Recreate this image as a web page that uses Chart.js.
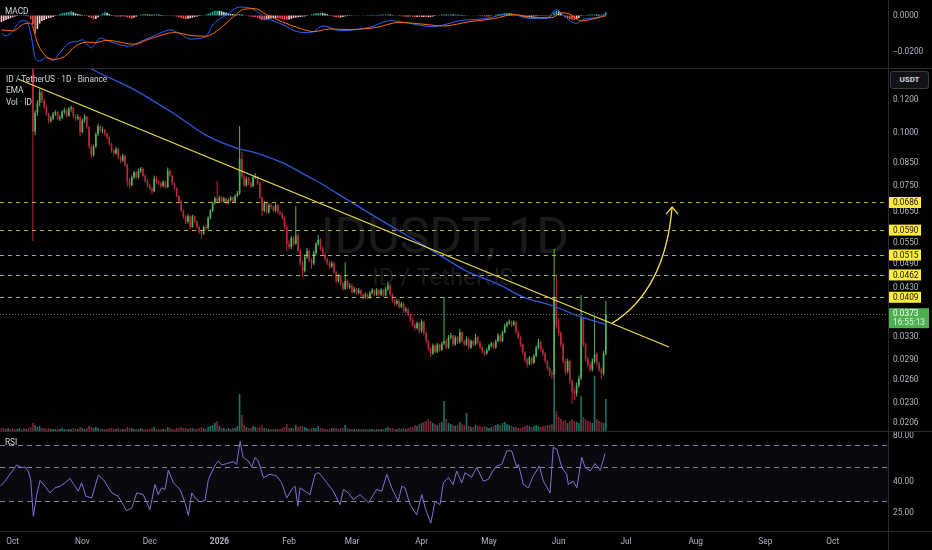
<!DOCTYPE html>
<html>
<head>
<meta charset="utf-8">
<title>IDUSDT 1D</title>
<script src="https://cdn.jsdelivr.net/npm/chart.js@4.4.1/dist/chart.umd.min.js"></script>
<style>
  html, body { margin: 0; padding: 0; background: #000; }
  #wrap { position: relative; width: 932px; height: 550px; background: #000; overflow: hidden; }
  #wrap canvas { position: absolute; left: 0; }
  .sep { position: absolute; background: #2a2b30; }
  #usdt { position: absolute; left: 890px; top: 71px; width: 37px; height: 16px; border: 1px solid #3b3d45;
          border-radius: 3px; background: #111216; color: #d1d4dc; font: bold 8px Roboto, sans-serif;
          line-height: 16px; text-align: center; }
</style>
</head>
<body>
<div id="wrap">
  <canvas id="macd" width="932" height="68" style="top:0"></canvas>
  <canvas id="price" width="932" height="362" style="top:69px"></canvas>
  <canvas id="rsi" width="932" height="118" style="top:432px"></canvas>
  <div class="sep" style="left:0;top:68px;width:932px;height:1px"></div>
  <div class="sep" style="left:0;top:431px;width:932px;height:1px"></div>
  <div class="sep" style="left:0;top:531px;width:932px;height:1px"></div>
  <div class="sep" style="left:888px;top:0;width:1px;height:550px"></div>
  <div id="usdt">USDT</div>
</div>
<script>
// x axis = days since 2025-10-01, first candle is 2025-09-26
const FIRST_DAY = -5;
const X_MIN = -5.65;
const X_MAX = 389.6;

const monthDays = [0, 31, 61, 92, 123, 151, 182, 212, 243, 273, 304, 335, 365];
const monthLabels = ['Oct', 'Nov', 'Dec', '2026', 'Feb', 'Mar', 'Apr', 'May', 'Jun', 'Jul', 'Aug', 'Sep', 'Oct'];

const priceTicks = [0.1200, 0.1000, 0.0850, 0.0750, 0.0650, 0.0550, 0.0490, 0.0430, 0.0330, 0.0290, 0.0260, 0.0230, 0.0206];
const macdTicks = [0, -0.02];
const rsiTicks = [80, 40, 25];
const rsiBands = [70, 50, 30];

const levels = [0.0686, 0.0590, 0.0515, 0.0462, 0.0409];
const lastPrice = 0.0373;
const countdown = '16:55:13';

const firstOpen = 0.185;
const closes = [
  0.182, 0.178, 0.175, 0.179, 0.176, 0.171, 0.168, 0.172, 0.174, 0.170,            // -5
  0.169, 0.173, 0.171, 0.170, 0.1010, 0.1120, 0.1180, 0.1255, 0.1200, 0.1157,      // 5
  0.1113, 0.1070, 0.1085, 0.1113, 0.1123, 0.1083, 0.1090, 0.1125, 0.1136, 0.1100,  // 15
  0.1146, 0.1150, 0.1097, 0.1085, 0.1095, 0.1008, 0.1074, 0.1097, 0.1036, 0.0931,  // 25
  0.0888, 0.0930, 0.0997, 0.1040, 0.1017, 0.1020, 0.0997, 0.0979, 0.0946, 0.0910,  // 35
  0.0897, 0.0920, 0.0877, 0.0862, 0.0885, 0.0843, 0.0772, 0.0753, 0.0787, 0.0808,  // 45
  0.0787, 0.0816, 0.0824, 0.0794, 0.0772, 0.0753, 0.0740, 0.0729, 0.0781, 0.0768,  // 55
  0.0762, 0.0750, 0.0768, 0.0746, 0.0816, 0.0794, 0.0762, 0.0741, 0.0711, 0.0690,  // 65
  0.0656, 0.0636, 0.0618, 0.0636, 0.0600, 0.0636, 0.0618, 0.0600, 0.0584, 0.0579,  // 75
  0.0600, 0.0596, 0.0630, 0.0656, 0.0684, 0.0701, 0.0690, 0.0705, 0.0690, 0.0701,  // 85
  0.0684, 0.0695, 0.0705, 0.0690, 0.0711, 0.0722, 0.0870, 0.0790, 0.0753, 0.0781,  // 95
  0.0762, 0.0750, 0.0787, 0.0790, 0.0762, 0.0705, 0.0656, 0.0684, 0.0650, 0.0676,  // 105
  0.0670, 0.0656, 0.0676, 0.0650, 0.0645, 0.0630, 0.0600, 0.0548, 0.0538, 0.0565,  // 115
  0.0548, 0.0573, 0.0527, 0.0492, 0.0472, 0.0510, 0.0527, 0.0500, 0.0492, 0.0521,  // 125
  0.0548, 0.0560, 0.0533, 0.0517, 0.0503, 0.0493, 0.0483, 0.0492, 0.0469, 0.0447,  // 135
  0.0460, 0.0441, 0.0428, 0.0447, 0.0432, 0.0436, 0.0421, 0.0428, 0.0419, 0.0425,  // 145
  0.0415, 0.0409, 0.0415, 0.0409, 0.0419, 0.0425, 0.0415, 0.0425, 0.0415, 0.0425,  // 155
  0.0413, 0.0428, 0.0436, 0.0415, 0.0401, 0.0395, 0.0401, 0.0388, 0.0395, 0.0380,  // 165
  0.0383, 0.0372, 0.0362, 0.0352, 0.0346, 0.0355, 0.0340, 0.0358, 0.0336, 0.0322,  // 175
  0.0309, 0.0301, 0.0314, 0.0304, 0.0316, 0.0307, 0.0318, 0.0322, 0.0311, 0.0329,  // 185
  0.0332, 0.0316, 0.0329, 0.0320, 0.0338, 0.0322, 0.0316, 0.0326, 0.0311, 0.0322,  // 195
  0.0316, 0.0329, 0.0320, 0.0311, 0.0304, 0.0301, 0.0307, 0.0314, 0.0318, 0.0311,  // 205
  0.0322, 0.0332, 0.0322, 0.0338, 0.0350, 0.0355, 0.0358, 0.0352, 0.0358, 0.0338,  // 215
  0.0329, 0.0316, 0.0303, 0.0291, 0.0284, 0.0294, 0.0286, 0.0297, 0.0311, 0.0320,  // 225
  0.0307, 0.0301, 0.0289, 0.0278, 0.0270, 0.0268, 0.0410, 0.0351, 0.0336, 0.0316,  // 235
  0.0289, 0.0273, 0.0289, 0.0259, 0.0245, 0.0242, 0.0253, 0.0263, 0.0365, 0.0316,  // 245
  0.0292, 0.0283, 0.0276, 0.0289, 0.0300, 0.0285, 0.0276, 0.0270, 0.0301, 0.0373   // 255
];
const highs = [
  0.188, 0.184, 0.180, 0.182, 0.181, 0.177, 0.173, 0.175, 0.178, 0.176,
  0.173, 0.176, 0.175, 0.174, 0.175, 0.1135, 0.1200, 0.1277, 0.1262, 0.1210,
  0.1165, 0.1120, 0.1100, 0.1125, 0.1135, 0.1130, 0.1105, 0.1135, 0.1150, 0.1145,
  0.1155, 0.1165, 0.1155, 0.1110, 0.1110, 0.1100, 0.1085, 0.1110, 0.1100, 0.1040,
  0.0940, 0.0940, 0.1005, 0.1055, 0.1045, 0.1035, 0.1025, 0.1005, 0.0985, 0.0950,
  0.0920, 0.0930, 0.0925, 0.0885, 0.0895, 0.0890, 0.0850, 0.0785, 0.0795, 0.0815,
  0.0815, 0.0825, 0.0832, 0.0830, 0.0800, 0.0780, 0.0760, 0.0745, 0.0795, 0.0790,
  0.0775, 0.0768, 0.0775, 0.0772, 0.0830, 0.0822, 0.0798, 0.0765, 0.0745, 0.0715,
  0.0695, 0.0660, 0.0640, 0.0645, 0.0640, 0.0642, 0.0640, 0.0622, 0.0605, 0.0590,
  0.0605, 0.0608, 0.0636, 0.0662, 0.0690, 0.0710, 0.0772, 0.0712, 0.0710, 0.0708,
  0.0705, 0.0702, 0.0712, 0.0710, 0.0718, 0.0730, 0.1041, 0.0904, 0.0800, 0.0790,
  0.0788, 0.0768, 0.0795, 0.0805, 0.0795, 0.0768, 0.0710, 0.0692, 0.0690, 0.0682,
  0.0685, 0.0675, 0.0682, 0.0680, 0.0658, 0.0650, 0.0635, 0.0605, 0.0558, 0.0572,
  0.0570, 0.0672, 0.0580, 0.0532, 0.0498, 0.0516, 0.0535, 0.0530, 0.0506, 0.0528,
  0.0553, 0.0575, 0.0565, 0.0540, 0.0522, 0.0508, 0.0498, 0.0498, 0.0495, 0.0472,
  0.0465, 0.0462, 0.0445, 0.0495, 0.0450, 0.0442, 0.0440, 0.0433, 0.0430, 0.0430,
  0.0427, 0.0418, 0.0420, 0.0418, 0.0423, 0.0430, 0.0428, 0.0430, 0.0428, 0.0430,
  0.0428, 0.0433, 0.0445, 0.0440, 0.0418, 0.0405, 0.0406, 0.0404, 0.0399, 0.0398,
  0.0388, 0.0386, 0.0375, 0.0365, 0.0356, 0.0359, 0.0357, 0.0363, 0.0360, 0.0339,
  0.0325, 0.0312, 0.0318, 0.0316, 0.0319, 0.0318, 0.0321, 0.0409, 0.0326, 0.0333,
  0.0337, 0.0334, 0.0332, 0.0331, 0.0344, 0.0340, 0.0325, 0.0330, 0.0328, 0.0325,
  0.0324, 0.0335, 0.0331, 0.0322, 0.0313, 0.0306, 0.0310, 0.0317, 0.0321, 0.0320,
  0.0325, 0.0336, 0.0334, 0.0341, 0.0354, 0.0359, 0.0363, 0.0360, 0.0361, 0.0359,
  0.0341, 0.0332, 0.0318, 0.0305, 0.0294, 0.0297, 0.0296, 0.0300, 0.0314, 0.0326,
  0.0322, 0.0310, 0.0303, 0.0291, 0.0280, 0.0274, 0.0532, 0.0464, 0.0365, 0.0340,
  0.0320, 0.0292, 0.0293, 0.0291, 0.0262, 0.0250, 0.0257, 0.0267, 0.0414, 0.0368,
  0.0320, 0.0296, 0.0286, 0.0293, 0.0368, 0.0303, 0.0288, 0.0279, 0.0305, 0.0401
];
const lows = [
  0.176, 0.172, 0.170, 0.171, 0.172, 0.166, 0.163, 0.165, 0.169, 0.166,
  0.165, 0.166, 0.167, 0.166, 0.0556, 0.0990, 0.1100, 0.1160, 0.1180, 0.1140,
  0.1100, 0.1055, 0.1060, 0.1075, 0.1100, 0.1075, 0.1070, 0.1080, 0.1110, 0.1090,
  0.1095, 0.1125, 0.1085, 0.1070, 0.1075, 0.0985, 0.1000, 0.1060, 0.1025, 0.0920,
  0.0873, 0.0880, 0.0925, 0.0985, 0.1005, 0.1000, 0.0985, 0.0970, 0.0935, 0.0900,
  0.0885, 0.0890, 0.0870, 0.0850, 0.0855, 0.0835, 0.0747, 0.0740, 0.0750, 0.0780,
  0.0780, 0.0782, 0.0805, 0.0788, 0.0765, 0.0745, 0.0733, 0.0718, 0.0725, 0.0760,
  0.0755, 0.0742, 0.0745, 0.0740, 0.0742, 0.0788, 0.0755, 0.0735, 0.0705, 0.0684,
  0.0650, 0.0628, 0.0610, 0.0612, 0.0592, 0.0598, 0.0612, 0.0594, 0.0578, 0.0563,
  0.0575, 0.0588, 0.0592, 0.0625, 0.0650, 0.0678, 0.0684, 0.0684, 0.0684, 0.0685,
  0.0678, 0.0680, 0.0690, 0.0684, 0.0686, 0.0705, 0.0715, 0.0780, 0.0745, 0.0748,
  0.0755, 0.0742, 0.0745, 0.0780, 0.0755, 0.0698, 0.0636, 0.0650, 0.0644, 0.0645,
  0.0662, 0.0650, 0.0652, 0.0645, 0.0638, 0.0624, 0.0594, 0.0526, 0.0530, 0.0532,
  0.0542, 0.0545, 0.0520, 0.0486, 0.0456, 0.0468, 0.0505, 0.0495, 0.0478, 0.0488,
  0.0515, 0.0542, 0.0528, 0.0512, 0.0498, 0.0488, 0.0478, 0.0480, 0.0465, 0.0442,
  0.0443, 0.0436, 0.0424, 0.0426, 0.0428, 0.0428, 0.0417, 0.0418, 0.0414, 0.0416,
  0.0411, 0.0404, 0.0406, 0.0405, 0.0406, 0.0416, 0.0411, 0.0412, 0.0411, 0.0412,
  0.0409, 0.0410, 0.0424, 0.0411, 0.0397, 0.0390, 0.0391, 0.0384, 0.0385, 0.0376,
  0.0376, 0.0368, 0.0358, 0.0348, 0.0341, 0.0343, 0.0336, 0.0337, 0.0332, 0.0318,
  0.0305, 0.0295, 0.0299, 0.0301, 0.0302, 0.0304, 0.0305, 0.0315, 0.0307, 0.0309,
  0.0325, 0.0313, 0.0314, 0.0317, 0.0318, 0.0319, 0.0313, 0.0314, 0.0308, 0.0309,
  0.0313, 0.0314, 0.0317, 0.0308, 0.0301, 0.0297, 0.0299, 0.0305, 0.0311, 0.0308,
  0.0309, 0.0320, 0.0319, 0.0320, 0.0336, 0.0347, 0.0352, 0.0348, 0.0349, 0.0335,
  0.0325, 0.0312, 0.0299, 0.0287, 0.0279, 0.0282, 0.0283, 0.0284, 0.0295, 0.0308,
  0.0304, 0.0297, 0.0285, 0.0274, 0.0266, 0.0262, 0.0265, 0.0345, 0.0330, 0.0311,
  0.0285, 0.0268, 0.0270, 0.0255, 0.0229, 0.0234, 0.0238, 0.0250, 0.0260, 0.0312,
  0.0288, 0.0279, 0.0272, 0.0273, 0.0285, 0.0281, 0.0272, 0.0262, 0.0267, 0.0298
];
// volume, millions of ID
const volumes = [
  3, 3, 2, 3, 2, 3, 2, 2, 3, 2,
  3, 2, 3, 4, 8, 6, 4, 5, 3, 3,
  2, 3, 2, 2, 2, 2, 2, 3, 2, 2,
  2, 2, 3, 2, 2, 4, 3, 2, 3, 5,
  4, 3, 4, 3, 2, 2, 2, 2, 3, 3,
  2, 2, 3, 2, 2, 2, 4, 3, 3, 2,
  2, 2, 3, 2, 2, 2, 2, 3, 4, 2,
  2, 2, 2, 2, 4, 3, 2, 2, 3, 3,
  4, 3, 3, 2, 3, 3, 2, 2, 3, 4,
  3, 2, 4, 5, 6, 8, 10, 5, 3, 3,
  2, 3, 2, 3, 3, 5, 37, 16, 6, 4,
  3, 3, 5, 4, 3, 4, 6, 3, 3, 2,
  2, 2, 2, 2, 2, 3, 4, 7, 3, 3,
  3, 6, 4, 5, 5, 4, 3, 2, 3, 3,
  3, 5, 3, 3, 2, 2, 2, 3, 3, 3,
  2, 3, 3, 6, 3, 2, 2, 2, 2, 2,
  2, 2, 2, 2, 2, 2, 2, 2, 2, 2,
  2, 3, 4, 3, 3, 2, 2, 3, 2, 3,
  2, 3, 4, 4, 6, 5, 7, 8, 9, 10,
  12, 10, 8, 7, 6, 8, 9, 30, 12, 8,
  7, 6, 5, 6, 9, 7, 6, 18, 5, 4,
  4, 6, 5, 5, 4, 5, 4, 3, 4, 5,
  6, 7, 6, 8, 9, 7, 6, 5, 4, 4,
  3, 3, 4, 5, 6, 5, 4, 5, 6, 5,
  4, 5, 5, 6, 6, 7, 55, 20, 14, 12,
  10, 11, 8, 10, 12, 10, 9, 8, 35, 14,
  12, 10, 9, 8, 55, 12, 10, 9, 8, 32
];

const emaDays = [30, 36, 54, 71.5, 86, 100, 109, 120.5, 131, 137, 149, 165, 187, 202, 217, 227, 240.5, 252.5, 264];
const emaValues = [0.1480, 0.1413, 0.1270, 0.1116, 0.0991, 0.0922, 0.0897, 0.0850, 0.0793, 0.0762,
                   0.0696, 0.0618, 0.0527, 0.0472, 0.0437, 0.0410, 0.0390, 0.0368, 0.0353];

const trendDays = [2.36, 292.1];
const trendValues = [0.1346, 0.03118];

// projected move: start, control, tip
const arrowPoints = [{ x: 266.8, y: 0.0355 }, { x: 290.4, y: 0.0425 }, { x: 293.5, y: 0.0669 }];

// MACD histogram, units of 1e-4, daily from FIRST_DAY
const macdHist = [
  -36, -30, -25, -20, -15, -10, -6, -3, 2, 4,
  5, 3, -5, -20, -50, -100, -75, -45, -30, -25,
  -20, -15, -12, -8, -3, 3, 8, 12, 15, 18,
  20, 24, 18, 12, 8, 5, 3, 2, -3, -8,
  -15, -22, -20, -10, 3, 12, 18, 15, 8, 3,
  -3, -5, -6, -5, -4, -6, -10, -15, -18, -12,
  -6, 2, 5, 7, 8, 6, 5, 4, 6, 7,
  5, 3, 2, 1, 2, 1, -2, -4, -6, -10,
  -14, -18, -20, -18, -15, -12, -8, -5, -3, -2,
  1, 4, 10, 16, 22, 26, 27, 26, 24, 20,
  16, 13, 10, 8, 6, 6, 8, 5, 2, -2,
  -4, -6, -8, -10, -14, -20, -25, -26, -22, -18,
  -16, -15, -14, -15, -16, -20, -22, -24, -22, -18,
  -14, -12, -10, -8, -7, -5, -3, 1, 6, 10,
  12, 14, 14, 13, 11, 7, 3, -3, -8, -10,
  -12, -11, -8, -5, -3, -2, -1, 1, 2, 1,
  0, -1, 1, 2, 3, 3, 2, 3, 4, 5,
  5, 5, 6, 5, 3, 1, -2, -3, -4, -5,
  -5, -5, -6, -7, -8, -8, -9, -8, -8, -9,
  -9, -8, -6, -3, 1, 3, 5, 6, 5, 5,
  6, 5, 5, 4, 5, 3, 2, 1, 1, 0,
  -1, 1, -1, -3, -4, -5, -5, -4, -2, 1,
  4, 7, 8, 10, 12, 13, 12, 9, 5, 1,
  -3, -6, -9, -11, -12, -10, -8, -6, -4, -2,
  -2, -3, -4, -5, -6, -2, 18, 27, 22, 12,
  -2, -10, -15, -20, -23, -24, -20, -14, -3, 2,
  3, 4, 5, 5, 6, 5, 4, 4, 8, 18
];
const macdDays = [-5, -3, 0, 3, 6, 8, 10, 12, 15, 18, 21, 25, 29, 31, 35, 39, 43, 52, 57, 64,
                  70, 74, 79, 86, 89, 95, 101, 105, 109, 112, 116, 122, 125, 131, 134, 138, 146, 159, 168, 175,
                  187, 199, 211, 221, 230, 238, 242, 245, 251, 254, 261, 264];
const macdValues = [-0.0098, -0.0113, -0.0089, -0.0035, -0.0029, -0.0098, -0.0234, -0.0253, -0.0234, -0.0249,
                    -0.0207, -0.0153, -0.0144, -0.0135, -0.0180, -0.0125, -0.0144, -0.0171, -0.0144, -0.0107,
                    -0.0080, -0.0098, -0.0131, -0.0117, -0.0053, 0.0002, 0.0047, 0.0044, 0.0020, -0.0016,
                    -0.0029, -0.0062, -0.0084, -0.0095, -0.0089, -0.0058, -0.0084, -0.0065, -0.0029, -0.0040,
                    -0.0062, -0.0029, -0.0016, 0.0011, -0.0016, -0.0016, 0.0033, 0.0002, -0.0044, -0.0022,
                    -0.0008, 0.0011];
const signalDays = [-5, 0, 5, 8, 11, 14, 18, 23, 28, 33, 37, 42, 54, 61, 72, 80, 86, 92, 98, 103,
                    108, 113, 120, 128, 134, 141, 150, 162, 172, 180, 192, 203, 214, 223, 233, 240, 244, 248, 253, 258,
                    264];
const signalValues = [-0.0080, -0.0085, -0.0047, -0.0042, -0.0153, -0.0216, -0.0244, -0.0228, -0.0170, -0.0148,
                      -0.0150, -0.0138, -0.0160, -0.0130, -0.0095, -0.0112, -0.0115, -0.0075, -0.0010, 0.0035,
                      0.0038, 0.0005, -0.0035, -0.0072, -0.0090, -0.0075, -0.0078, -0.0066, -0.0038, -0.0045,
                      -0.0058, -0.0035, -0.0018, 0.0005, -0.0012, -0.0012, 0.0015, 0.0008, -0.0030, -0.0020,
                      -0.0002];

const rsiDays = [-5.5, -3.4, -1.2, 1.8, 4, 5.5, 6.9, 8, 9.2, 10.7,
                 12.2, 14.4, 16.6, 18.8, 21.1, 23.3, 25.5, 27, 29.2, 30.7,
                 32.6, 35.2, 38.1, 40.3, 44.1, 47, 50.7, 53, 55.2, 58.1,
                 61.1, 63.3, 64.8, 66.3, 67.8, 69.3, 71.5, 74.5, 76.7, 78.2,
                 79.7, 81.1, 83.4, 85.6, 87.1, 90.1, 91.5, 93, 95.3, 98.2,
                 99.7, 101.2, 102.6, 104.9, 106.4, 107.9, 109.3, 111.6, 114.5, 117.5,
                 119.7, 122, 124.2, 125.7, 126.9, 127.9, 130.1, 132.3, 134.6, 136.2,
                 137.5, 139.8, 142.7, 145.7, 147.2, 149.4, 151.6, 154.6, 158.3, 162,
                 164.3, 166.5, 168.7, 171.6, 173.2, 174.6, 176.9, 179.8, 182.1, 183.6,
                 186.1, 188, 190.2, 191.7, 193.9, 196.1, 197.6, 199.9, 201.3, 204.3,
                 206.5, 209.5, 211.7, 213.7, 215.4, 217.7, 219.9, 222.1, 224.4, 225.1,
                 227.3, 229.5, 231.7, 234.4, 236.2, 239.2, 240.6, 242.2, 244.4, 246.6,
                 247.3, 249.5, 251.1, 253.3, 254.8, 257, 259.2, 261.5, 263.7];
const rsiValues = [37.4, 40.4, 44.8, 51.6, 49.6, 50.0, 47.1, 41.5, 23.7, 33.0,
                   40.8, 37.4, 33.8, 36.5, 37.4, 39.4, 42.1, 38.8, 34.7, 39.4,
                   32.1, 31.4, 44.3, 41.5, 33.8, 32.1, 25.8, 26.9, 33.8, 33.0,
                   26.2, 38.4, 33.0, 36.5, 35.6, 47.6, 39.4, 35.6, 29.1, 24.0,
                   33.8, 31.4, 29.5, 30.1, 41.5, 51.6, 54.8, 51.6, 52.7, 54.3,
                   52.1, 73.7, 57.8, 54.8, 50.0, 57.8, 54.8, 42.6, 44.8, 43.6,
                   39.4, 31.4, 35.6, 37.4, 27.6, 36.5, 34.7, 33.0, 44.8, 46.0,
                   43.6, 39.4, 34.7, 28.3, 35.6, 33.8, 30.6, 33.0, 29.1, 35.6,
                   34.7, 44.8, 36.5, 29.8, 37.4, 36.5, 28.3, 24.3, 33.0, 26.9,
                   21.4, 29.8, 28.3, 39.4, 42.6, 38.4, 47.1, 39.4, 45.9, 42.9,
                   49.6, 40.4, 41.5, 47.1, 50.8, 52.1, 63.9, 63.9, 49.6, 52.1,
                   38.4, 36.5, 43.6, 50.8, 40.4, 33.8, 67.3, 65.6, 49.6, 44.8,
                   38.4, 40.4, 36.5, 57.8, 49.6, 47.1, 52.7, 47.6, 61.4];

// --- styling ---
const FONT = "Roboto, 'Liberation Sans', sans-serif";
const TXT = '#b2b5be';
const LEGEND = '#d1d4dc';
const UP = '#4fb35a';
const DOWN = '#b5283b';
const VOL_UP = '#1f7166';
const VOL_DOWN = '#7a2833';
const AXIS_W = 44;

Chart.defaults.font.family = FONT;
Chart.defaults.font.size = 8.3;
Chart.defaults.color = TXT;
Chart.defaults.animation = false;
Chart.defaults.responsive = false;
Chart.defaults.events = [];
Chart.defaults.plugins.legend.display = false;
Chart.defaults.plugins.tooltip.enabled = false;

const zip = (xs, ys) => xs.map((x, i) => ({ x: x, y: ys[i] }));
const days = closes.map((_, i) => FIRST_DAY + i);
const opens = closes.map((c, i) => (i === 0 ? firstOpen : closes[i - 1]));
const isUp = closes.map((c, i) => c >= opens[i]);
const candleColors = isUp.map(u => (u ? UP : DOWN));

const hiddenX = { type: 'linear', min: X_MIN, max: X_MAX, offset: false, display: false };

function rightAxis(type, min, max, ticks, fmt) {
  return {
    type: type, min: min, max: max, position: 'right', stacked: false,
    grid: { display: false, drawTicks: false },
    border: { display: false },
    afterBuildTicks(s) { s.ticks = ticks.map(v => ({ value: v })); },
    ticks: { padding: 5, autoSkip: false, color: TXT, callback: fmt },
    afterFit(s) { s.width = AXIS_W; s.paddingTop = 0; s.paddingBottom = 0; }
  };
}

function legendText(ctx, lines, x, y0, step) {
  ctx.save();
  ctx.fillStyle = LEGEND;
  ctx.font = '8.3px ' + FONT;
  ctx.textAlign = 'left';
  ctx.textBaseline = 'middle';
  lines.forEach((t, i) => ctx.fillText(t, x, y0 + i * step));
  ctx.restore();
}

// --- MACD pane ---
const histColors = macdHist.map((v, i) => {
  const prev = i > 0 ? macdHist[i - 1] : v;
  if (v >= 0) return v >= prev ? '#26a69a' : '#b2dfdb';
  return v < prev ? '#ff5252' : '#ffcdd2';
});

new Chart(document.getElementById('macd'), {
  type: 'bar',
  data: {
    datasets: [
      { type: 'bar', data: zip(days, macdHist.map(v => v / 10000)), backgroundColor: histColors,
        barThickness: 1.6, grouped: false, inflateAmount: 0, order: 3 },
      { type: 'line', data: zip(macdDays, macdValues), borderColor: '#2962ff', borderWidth: 1,
        pointRadius: 0, cubicInterpolationMode: 'monotone', order: 2 },
      { type: 'line', data: zip(signalDays, signalValues), borderColor: '#ff6d00', borderWidth: 1,
        pointRadius: 0, cubicInterpolationMode: 'monotone', order: 1 }
    ]
  },
  options: {
    layout: { padding: 0, autoPadding: false },
    scales: {
      x: hiddenX,
      y: rightAxis('linear', -0.02917, 0.00861, macdTicks,
        v => (v < 0 ? '\u2212' : '') + Math.abs(v).toFixed(4))
    }
  },
  plugins: [{
    id: 'macdLabel',
    afterDraw(chart) { legendText(chart.ctx, ['MACD'], 5, 12, 0); }
  }]
});

// --- price pane ---
const priceOverlay = {
  id: 'priceOverlay',
  beforeDatasetsDraw(chart) {
    const ctx = chart.ctx;
    ctx.save();
    ctx.fillStyle = 'rgba(255,255,255,0.1)';
    ctx.textAlign = 'center';
    ctx.textBaseline = 'alphabetic';
    ctx.font = '50px ' + FONT;
    ctx.fillText('IDUSDT, 1D', 445, 184);
    ctx.font = '24px ' + FONT;
    ctx.fillText('ID / TetherUS', 443, 216);
    ctx.restore();
  },
  afterDatasetsDraw(chart) {
    const { ctx, chartArea: a, scales: { x, y } } = chart;
    ctx.save();
    ctx.beginPath();
    ctx.rect(a.left, a.top, a.width, a.height);
    ctx.clip();
    ctx.lineWidth = 1;
    ctx.setLineDash([4, 4]);
    ctx.strokeStyle = 'rgba(225, 220, 70, 0.8)';
    levels.forEach(v => {
      const py = Math.round(y.getPixelForValue(v)) + 0.5;
      ctx.beginPath(); ctx.moveTo(a.left, py); ctx.lineTo(a.right, py); ctx.stroke();
    });
    ctx.setLineDash([1, 2]);
    ctx.strokeStyle = '#6b6e78';
    const lp = Math.round(y.getPixelForValue(lastPrice)) + 0.5;
    ctx.beginPath(); ctx.moveTo(a.left, lp); ctx.lineTo(a.right, lp); ctx.stroke();

    // curved projection arrow
    const p = arrowPoints.map(pt => [x.getPixelForValue(pt.x), y.getPixelForValue(pt.y)]);
    ctx.setLineDash([]);
    ctx.strokeStyle = '#f0de48';
    ctx.lineWidth = 1.3;
    ctx.beginPath();
    ctx.moveTo(p[0][0], p[0][1]);
    ctx.quadraticCurveTo(p[1][0], p[1][1], p[2][0], p[2][1]);
    ctx.stroke();
    ctx.beginPath();
    ctx.moveTo(p[2][0] - 6, p[2][1] + 7);
    ctx.lineTo(p[2][0], p[2][1]);
    ctx.lineTo(p[2][0] + 6, p[2][1] + 7);
    ctx.stroke();
    ctx.restore();
  },
  afterDraw(chart) {
    const { ctx, chartArea: a, scales: { y } } = chart;
    legendText(ctx, ['ID / TetherUS \u00b7 1D \u00b7 Binance', 'EMA', 'Vol \u00b7 ID'], 6, 11, 11.3);
    ctx.save();
    ctx.font = '8.3px ' + FONT;
    ctx.textAlign = 'left';
    ctx.textBaseline = 'middle';
    levels.forEach(v => {
      const py = y.getPixelForValue(v);
      ctx.fillStyle = '#ffeb3b';
      ctx.fillRect(a.right + 1, py - 5.5, 32, 11);
      ctx.fillStyle = '#131313';
      ctx.fillText(v.toFixed(4), a.right + 5, py + 0.5);
    });
    const lp = y.getPixelForValue(lastPrice);
    ctx.fillStyle = '#4caf50';
    ctx.fillRect(a.right + 1, lp - 6, 40, 20);
    ctx.fillStyle = '#ffffff';
    ctx.fillText(lastPrice.toFixed(4), a.right + 5, lp);
    ctx.fillStyle = '#dff3df';
    ctx.fillText(countdown, a.right + 5, lp + 9);
    ctx.restore();
  }
};

new Chart(document.getElementById('price'), {
  type: 'bar',
  data: {
    datasets: [
      { type: 'bar', label: 'Vol', yAxisID: 'yVol', data: zip(days, volumes),
        backgroundColor: isUp.map(u => (u ? VOL_UP : VOL_DOWN)),
        barThickness: 1.6, grouped: false, inflateAmount: 0, clip: 0, order: 5 },
      { type: 'bar', label: 'Wick', yAxisID: 'y',
        data: days.map((d, i) => ({ x: d, y: [Math.min(lows[i], opens[i], closes[i]), Math.max(highs[i], opens[i], closes[i])] })),
        backgroundColor: candleColors, barThickness: 1, grouped: false, inflateAmount: 0, clip: 0, order: 4 },
      { type: 'bar', label: 'Body', yAxisID: 'y',
        data: days.map((d, i) => ({ x: d, y: [opens[i], closes[i]] })),
        backgroundColor: candleColors, barThickness: 1.7, minBarLength: 1, grouped: false, inflateAmount: 0, clip: 0, order: 3 },
      { type: 'line', label: 'EMA', yAxisID: 'y', data: zip(emaDays, emaValues), borderColor: '#2f57da',
        borderWidth: 1.3, pointRadius: 0, cubicInterpolationMode: 'monotone', order: 2 },
      { type: 'line', label: 'Trend', yAxisID: 'y', data: zip(trendDays, trendValues), borderColor: '#f0de48',
        borderWidth: 1.2, pointRadius: 0, order: 1 }
    ]
  },
  options: {
    layout: { padding: 0, autoPadding: false },
    scales: {
      x: hiddenX,
      y: rightAxis('logarithmic', 0.01972, 0.1421, priceTicks, v => Number(v).toFixed(4)),
      yVol: { type: 'linear', min: 0, max: 362, display: false, stacked: false }
    }
  },
  plugins: [priceOverlay]
});

// --- RSI pane ---
const rsiOverlay = {
  id: 'rsiOverlay',
  beforeDatasetsDraw(chart) {
    const { ctx, chartArea: a, scales: { y } } = chart;
    const top = y.getPixelForValue(rsiBands[0]);
    const bot = y.getPixelForValue(rsiBands[2]);
    ctx.save();
    ctx.fillStyle = 'rgba(126, 87, 194, 0.08)';
    ctx.fillRect(a.left, top, a.width, bot - top);
    ctx.strokeStyle = '#808390';
    ctx.lineWidth = 1;
    ctx.setLineDash([5, 4]);
    rsiBands.forEach(v => {
      const py = Math.round(y.getPixelForValue(v)) + 0.5;
      ctx.beginPath(); ctx.moveTo(a.left, py); ctx.lineTo(a.right, py); ctx.stroke();
    });
    ctx.restore();
    legendText(ctx, ['RSI'], 5, 11, 0);
  }
};

new Chart(document.getElementById('rsi'), {
  type: 'line',
  data: {
    datasets: [
      { data: zip(rsiDays, rsiValues), borderColor: '#8172cf', borderWidth: 1, pointRadius: 0, tension: 0 }
    ]
  },
  options: {
    layout: { padding: 0, autoPadding: false },
    scales: {
      x: {
        type: 'linear', min: X_MIN, max: X_MAX, offset: false, position: 'bottom',
        grid: { display: false, drawTicks: false },
        border: { display: false },
        afterBuildTicks(s) { s.ticks = monthDays.map(v => ({ value: v })); },
        ticks: {
          autoSkip: false, maxRotation: 0, padding: 5, color: TXT,
          callback: (v, i) => monthLabels[i],
          font: c => ({ size: 8.3, weight: monthLabels[c.index] === '2026' ? 'bold' : 'normal' })
        },
        afterFit(s) { s.height = 18; s.paddingLeft = 0; s.paddingRight = 0; }
      },
      y: rightAxis('logarithmic', 18.7, 85.0, rsiTicks, v => Number(v).toFixed(2))
    }
  },
  plugins: [rsiOverlay]
});
</script>
</body>
</html>
